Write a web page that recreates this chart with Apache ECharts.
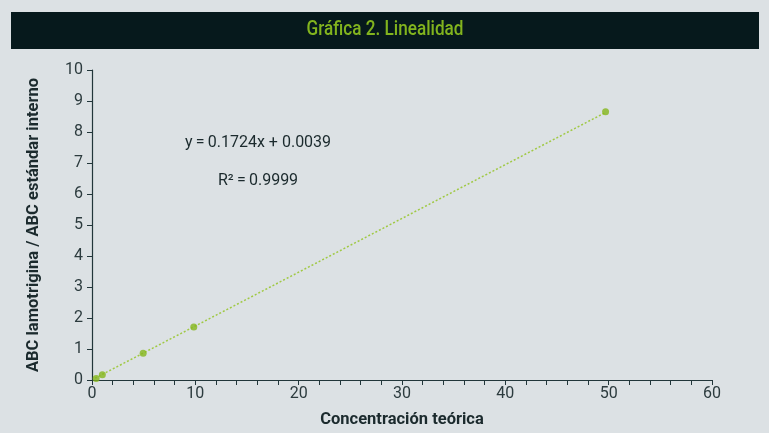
<!DOCTYPE html>
<html><head><meta charset="utf-8">
<script src="https://cdn.jsdelivr.net/npm/echarts@6/dist/echarts.min.js"></script>
<style>html,body{margin:0;padding:0;background:#dce1e4}#c{width:769px;height:433px}</style>
</head><body><div id="c"></div>
<script>
const titleText = 'Gráfica 2. Linealidad';
const xName = 'Concentración teórica';
const yName = 'ABC lamotrigina / ABC estándar interno';
const concX = [0.4, 1.0, 4.95, 9.85, 49.7];
const ratioY = [0.05, 0.17, 0.86, 1.71, 8.65];
const trendX = [0.3, 49.7];
const trendY = [0.06, 8.63];
const eqText = 'y\u2009=\u20090.1724x + 0.0039';
const r2Text = 'R²\u2009=\u20090.9999';

const chart = echarts.init(document.getElementById('c'), null, {renderer:'canvas'});
const axisColor = '#22363a';
const labelColor = '#2c3b3e';
chart.setOption({
  backgroundColor: '#dce1e4',
  animation: false,
  grid: {left: 92, right: 57, top: 70, bottom: 52},
  graphic: [
    {type:'rect', shape:{x:11, y:12, width:748, height:37}, style:{fill:'#06191c'}},
    {type:'text', x:385, y:30, scaleX:0.88, style:{text:titleText, fill:'#82b41e', font:'500 19.5px Roboto', textAlign:'center', textVerticalAlign:'middle'}},
    {type:'text', x:258, y:143, style:{text:eqText, fill:'#1b2a2d', font:'16px Roboto', textAlign:'center', textVerticalAlign:'middle'}},
    {type:'text', x:258, y:181, style:{text:r2Text, fill:'#1b2a2d', font:'16px Roboto', textAlign:'center', textVerticalAlign:'middle'}}
  ],
  xAxis: {
    type:'value', min:0, max:60, interval:10,
    name:xName, nameLocation:'middle', nameGap:31,
    nameTextStyle:{fontFamily:'Roboto', fontWeight:'bold', fontSize:16.5, color:'#1b2a2d'},
    axisLine:{lineStyle:{color:axisColor, width:1.2}},
    axisTick:{show:true, length:5, lineStyle:{color:axisColor}},
    minorTick:{show:true, splitNumber:5, length:5, lineStyle:{color:axisColor}},
    splitLine:{show:false},
    axisLabel:{fontFamily:'Roboto', fontSize:16, color:labelColor, margin:6}
  },
  yAxis: {
    type:'value', min:0, max:10, interval:1,
    name:yName, nameLocation:'middle', nameGap:50,
    nameTextStyle:{fontFamily:'Roboto', fontWeight:'bold', fontSize:16.5, color:'#1b2a2d'},
    axisLine:{show:true, lineStyle:{color:axisColor, width:1.2}},
    axisTick:{show:true, length:5, lineStyle:{color:axisColor}},
    splitLine:{show:false},
    axisLabel:{fontFamily:'Roboto', fontSize:16, color:labelColor, margin:9}
  },
  series: [
    {type:'line', data: trendX.map((x,i)=>[x, trendY[i]]), symbol:'none',
     lineStyle:{color:'#a0c944', width:1.5, type:[2,2]}, z:2},
    {type:'scatter', data: concX.map((x,i)=>[x, ratioY[i]]), symbolSize:7,
     itemStyle:{color:'#84b71c'}, z:3}
  ]
});
</script></body></html>
